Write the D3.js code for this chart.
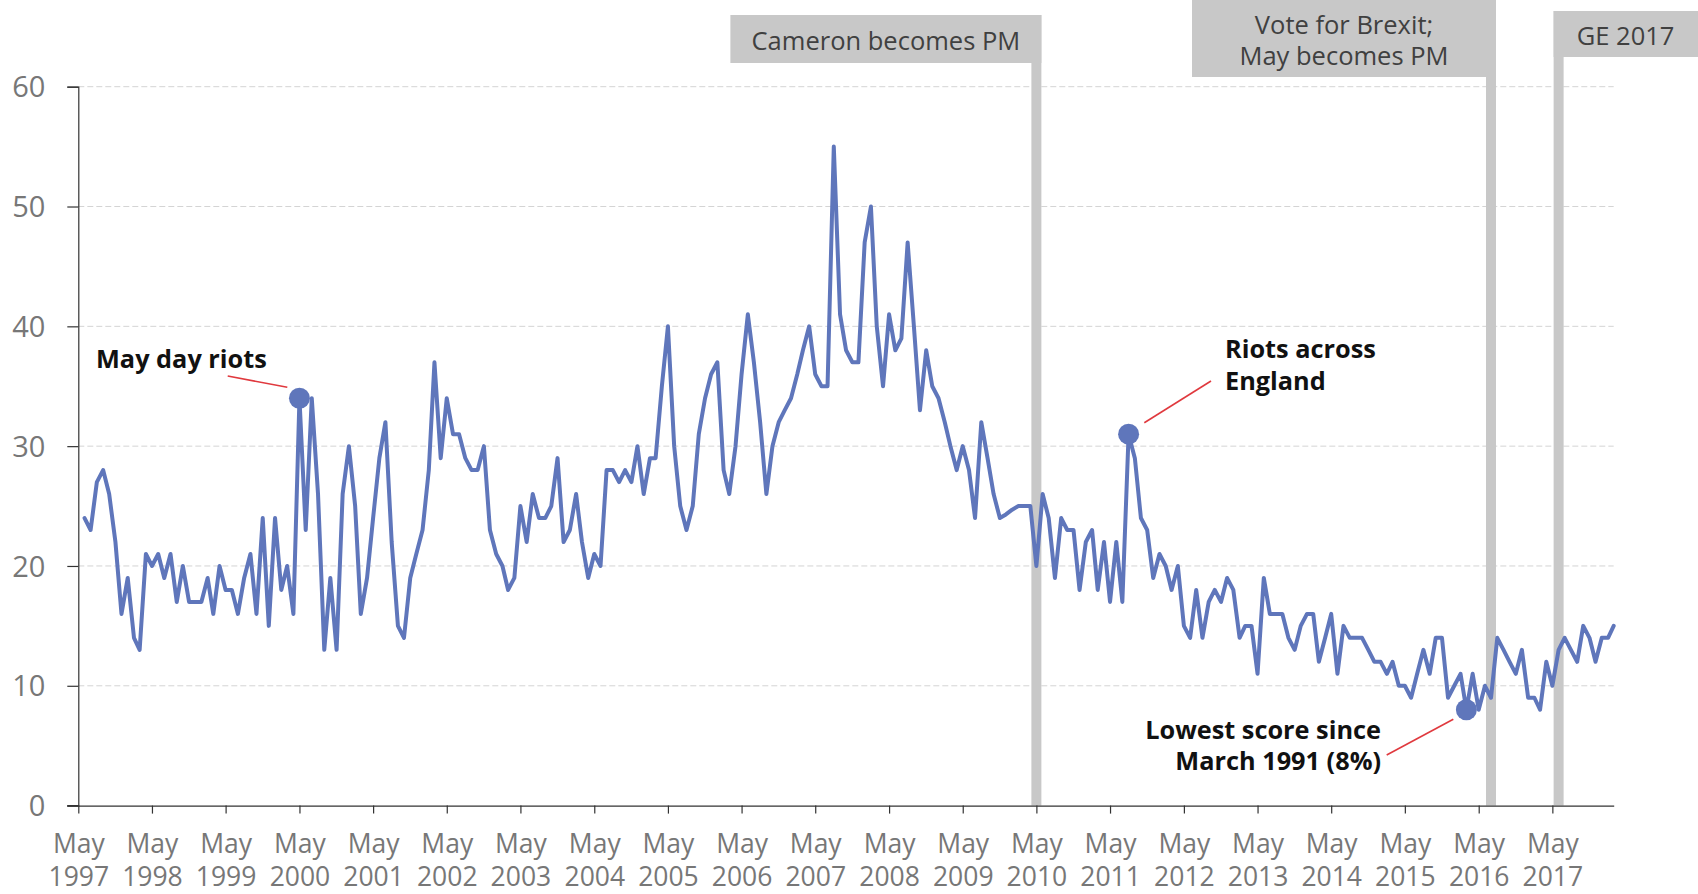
<!DOCTYPE html>
<html><head><meta charset="utf-8">
<script src="https://cdn.jsdelivr.net/npm/d3@7"></script>
<style>body{margin:0;background:#fff;} svg{display:block;}</style>
</head><body>
<svg id="c" width="1698" height="894"></svg>
<script>
// ---------- DATA ----------
const firstMonth = "1997-06";   // first monthly observation
const values = [
  24,23,27,28,26,22,16,
  19,14,13,21,20,21,19,21,17,20,17,17,
  17,19,16,20,18,18,16,19,21,16,24,15,
  24,18,20,16,34,23,34,26,13,19,13,26,
  30,25,16,19,24,29,32,22,15,14,19,21,
  23,28,37,29,34,31,31,29,28,28,30,23,
  21,20,18,19,25,22,26,24,24,25,29,22,
  23,26,22,19,21,20,28,28,27,28,27,30,
  26,29,29,35,40,30,25,23,25,31,34,36,
  37,28,26,30,36,41,37,32,26,30,32,33,
  34,36,38,40,36,35,35,55,41,38,37,37,
  47,50,40,35,41,38,39,47,40,33,38,35,
  34,32,30,28,30,28,24,32,29,26,24,24.3,
  24.7,25,25,25,20,26,24,19,24,23,23,18,
  22,23,18,22,17,22,17,31,29,24,23,19,
  21,20,18,20,15,14,18,14,17,18,17,19,
  18,14,15,15,11,19,16,16,16,14,13,15,
  16,16,12,14,16,11,15,14,14,14,13,12,
  12,11,12,10,10,9,11,13,11,14,14,9,
  10,11,8,11,8,10,9,14,13,12,11,13,
  9,9,8,12,10,13,14,13,12,15,14,12,
  14,14,15
];
const yTickValues = [0,10,20,30,40,50,60];
const xTickMonth = "May";
const xTickYears = [1997,1998,1999,2000,2001,2002,2003,2004,2005,2006,2007,2008,2009,2010,2011,2012,2013,2014,2015,2016,2017];
const eventMonths = ["2010-05","2016-07","2017-06"];
const eventLabels = [["Cameron becomes PM"],["Vote for Brexit;","May becomes PM"],["GE 2017"]];
const highlightMonths = ["2000-05","2011-08","2016-03"];
const highlightLabels = [["May day riots"],["Riots across","England"],["Lowest score since","March 1991 (8%)"]];

// ---------- LAYOUT / STYLE ----------
const parseM = d3.timeParse("%Y-%m");
const LINE = "#5f76bb", GRID = "#d4d4d4", BAR = "#c8c8c8", TXT = "#777777";
const FONT = "'Open Sans', 'Noto Sans', sans-serif";
const svg = d3.select("#c");
const start = parseM(firstMonth);
const data = values.map((v,i)=>({date: d3.timeMonth.offset(start,i), v}));

const x = d3.scaleTime()
  .domain([parseM(xTickYears[0]+"-05"), data[data.length-1].date])
  .range([78.3, 1613.7]);
const y = d3.scaleLinear().domain([0,60]).range([805.6, 86.7]);

// gridlines
svg.append("g").selectAll("line").data(yTickValues.filter(d=>d>0)).join("line")
  .attr("x1", x.range()[0]).attr("x2", x.range()[1])
  .attr("y1", d=>y(d)).attr("y2", d=>y(d))
  .attr("stroke", GRID).attr("stroke-width", 1).attr("stroke-dasharray","6,3");

// event bars + boxes
const evG = svg.append("g");
const boxes = [
  {anchor:"right", w:311, top:15, bottom:63},
  {anchor:"right", w:304, top:0, bottom:77},
  {anchor:"left",  w:160, top:11, bottom:57}
];
eventMonths.forEach((m,i)=>{
  const cx = x(parseM(m));
  const bw = 10;
  const b = boxes[i];
  evG.append("rect").attr("x", cx-bw/2).attr("y", b.top).attr("width", bw)
    .attr("height", y(0)-b.top).attr("fill", BAR);
  const bx = b.anchor==="right" ? cx+bw/2-b.w : cx-bw/2;
  evG.append("rect").attr("x", bx).attr("y", b.top).attr("width", b.w)
    .attr("height", b.bottom-b.top).attr("fill", BAR);
  const lines = eventLabels[i];
  const tcx = b.anchor==="right" ? bx+b.w/2 : bx+72;
  const lh = 31, mid = (b.top+b.bottom)/2 + 1;
  lines.forEach((t,j)=>{
    evG.append("text").attr("x", tcx).attr("y", mid + (j-(lines.length-1)/2)*lh)
      .attr("text-anchor","middle").attr("dominant-baseline","central")
      .attr("font-family", FONT).attr("font-size", 25.5).attr("fill","#404040")
      .text(t);
  });
});

// axes
const yAxis = d3.axisLeft(y).tickValues(yTickValues).tickSize(11).tickFormat(d=>d);
const yg = svg.append("g").attr("transform",`translate(${x.range()[0]},0)`).call(yAxis);
yg.select(".domain").attr("stroke","#333").attr("stroke-width",1.2);
yg.selectAll(".tick line").attr("stroke","#333").attr("stroke-width",1.2);
yg.selectAll(".tick text").attr("font-family",FONT).attr("font-size",29)
  .attr("fill",TXT).attr("x",-33).attr("dy","0.35em");

const xTicks = xTickYears.map(yr=>parseM(yr+"-05"));
const xAxis = d3.axisBottom(x).tickValues(xTicks).tickSize(8).tickSizeOuter(0).tickFormat("");
const xg = svg.append("g").attr("transform",`translate(0,${y(0)})`).call(xAxis);
xg.select(".domain").attr("stroke","#333").attr("stroke-width",1.2);
xg.selectAll(".tick line").attr("stroke","#333").attr("stroke-width",1.2);
xg.append("line").attr("x1",x.range()[0]-11).attr("x2",x.range()[0]).attr("stroke","#333").attr("stroke-width",1.2);
xg.selectAll(".tick").each(function(d,i){
  const g = d3.select(this);
  g.append("text").attr("y",47).attr("text-anchor","middle").attr("fill",TXT)
    .attr("font-family",FONT).attr("font-size",26.5).text(xTickMonth);
  g.append("text").attr("y",80).attr("text-anchor","middle").attr("fill",TXT)
    .attr("font-family",FONT).attr("font-size",26.5).text(xTickYears[i]);
});

// line
svg.append("path").datum(data)
  .attr("d", d3.line().x(d=>x(d.date)).y(d=>y(d.v)))
  .attr("fill","none").attr("stroke",LINE).attr("stroke-width",4)
  .attr("stroke-linejoin","round").attr("stroke-linecap","round");

// highlights
const annot = [
  {tx:96, ty:[358], anchor:"start", l:[227.7,376,287.3,387.3]},
  {tx:1225, ty:[348,380], anchor:"start", l:[1144.3,422.7,1211,381]},
  {tx:1381, ty:[729,760], anchor:"end", l:[1386.7,755,1453.3,719.3]}
];
highlightMonths.forEach((m,i)=>{
  const d = data.find(p=>+p.date===+parseM(m));
  const a = annot[i];
  svg.append("line").attr("x1",a.l[0]).attr("y1",a.l[1]).attr("x2",a.l[2]).attr("y2",a.l[3])
    .attr("stroke","#e0393e").attr("stroke-width",1.6);
  svg.append("circle").attr("cx",x(d.date)).attr("cy",y(d.v)).attr("r",10.5).attr("fill",LINE);
  highlightLabels[i].forEach((t,j)=>{
    svg.append("text").attr("x",a.tx).attr("y",a.ty[j]).attr("text-anchor",a.anchor)
      .attr("dominant-baseline","central")
      .attr("font-family",FONT).attr("font-weight",700).attr("font-size",25.3).attr("fill","#111")
      .text(t);
  });
});
</script>
</body></html>
